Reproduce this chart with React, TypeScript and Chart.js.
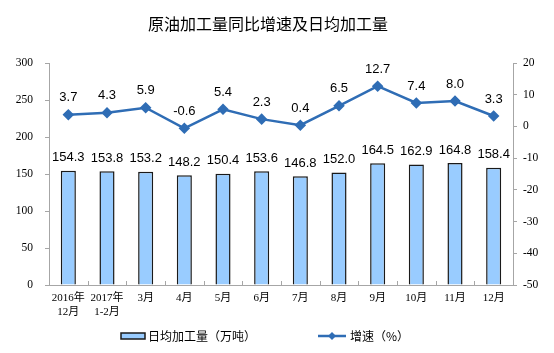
import React, { useEffect, useRef } from "react";
import { Chart, registerables } from "chart.js";

Chart.register(...registerables);

const categories: (string | string[])[] = [
  ["2016年", "12月"], ["2017年", "1-2月"], "3月", "4月", "5月", "6月",
  "7月", "8月", "9月", "10月", "11月", "12月",
];
const dailyOutput = [154.3, 153.8, 153.2, 148.2, 150.4, 153.6, 146.8, 152.0, 164.5, 162.9, 164.8, 158.4];
const growthRate = [3.7, 4.3, 5.9, -0.6, 5.4, 2.3, 0.4, 6.5, 12.7, 7.4, 8.0, 3.3];
const titleText = "原油加工量同比增速及日均加工量";
const barLegend = "日均加工量（万吨）";
const lineLegend = "增速（%）";

const LINE_COLOR = "#2F6DB5";
const BAR_COLOR = "#99CCFF";
const AXIS_COLOR = "#A6A6A6";
const TICK_FONT = "'Liberation Serif', 'Noto Sans CJK SC', serif";
const LABEL_FONT = "'Liberation Sans', Arial, sans-serif";
const CJK_FONT = "'Noto Sans CJK SC', 'Liberation Sans', sans-serif";

const decorPlugin = {
  id: "decor",
  afterDatasetsDraw(chart: any) {
    const ctx = chart.ctx;
    ctx.save();
    // inward category tick marks on x axis
    const xs = chart.scales.x;
    const area = chart.chartArea;
    ctx.strokeStyle = AXIS_COLOR;
    ctx.lineWidth = 1;
    const n = categories.length;
    for (let i = 0; i <= n; i++) {
      const px = Math.round(xs.left + (xs.width * i) / n) + 0.5;
      ctx.beginPath();
      ctx.moveTo(px, area.bottom);
      ctx.lineTo(px, area.bottom - 4);
      ctx.stroke();
    }

    // title
    ctx.fillStyle = "#000";
    ctx.font = `16px ${CJK_FONT}`;
    ctx.textAlign = "center";
    ctx.textBaseline = "middle";
    ctx.fillText(titleText, 268, 24);

    // data labels
    const barMeta = chart.getDatasetMeta(0);
    const lineMeta = chart.getDatasetMeta(1);
    ctx.font = `13px ${LABEL_FONT}`;
    ctx.fillStyle = "#000";
    barMeta.data.forEach((el: any, i: number) => {
      ctx.fillText(dailyOutput[i].toFixed(1), el.x, el.y - 13);
    });
    lineMeta.data.forEach((el: any, i: number) => {
      ctx.fillText(growthRate[i].toFixed(1), el.x, el.y - 17);
    });

    // legend
    const ly = 336;
    ctx.fillStyle = BAR_COLOR;
    ctx.strokeStyle = "#1a1a1a";
    ctx.lineWidth = 1.5;
    ctx.fillRect(121, ly - 3, 24, 6);
    ctx.strokeRect(121, ly - 3, 24, 6);
    ctx.fillStyle = "#000";
    ctx.font = `12px ${CJK_FONT}`;
    ctx.textAlign = "left";
    ctx.fillText(barLegend, 148, ly);

    ctx.strokeStyle = LINE_COLOR;
    ctx.lineWidth = 2.5;
    ctx.beginPath();
    ctx.moveTo(318, ly);
    ctx.lineTo(346, ly);
    ctx.stroke();
    ctx.fillStyle = LINE_COLOR;
    ctx.beginPath();
    ctx.moveTo(332, ly - 4);
    ctx.lineTo(336, ly);
    ctx.lineTo(332, ly + 4);
    ctx.lineTo(328, ly);
    ctx.closePath();
    ctx.fill();
    ctx.fillStyle = "#000";
    ctx.fillText(lineLegend, 350, ly);
    ctx.restore();
  },
};

export default function App() {
  const ref = useRef<HTMLCanvasElement>(null);
  useEffect(() => {
    if (!ref.current) return;
    const chart = new Chart(ref.current, {
      type: "bar",
      data: {
        labels: categories as any,
        datasets: [
          {
            type: "bar",
            label: barLegend,
            data: dailyOutput,
            yAxisID: "y",
            backgroundColor: BAR_COLOR,
            borderColor: "#1a1a1a",
            borderWidth: 1.5,
            categoryPercentage: 1,
            barPercentage: 0.39,
            order: 2,
          },
          {
            type: "line",
            label: lineLegend,
            data: growthRate,
            yAxisID: "y1",
            borderColor: LINE_COLOR,
            backgroundColor: LINE_COLOR,
            borderWidth: 2.5,
            pointStyle: "rectRot",
            pointRadius: 4,
            pointBackgroundColor: LINE_COLOR,
            pointBorderColor: LINE_COLOR,
            tension: 0,
            order: 1,
          },
        ],
      },
      options: {
        animation: false,
        responsive: false,
        devicePixelRatio: 1,
        layout: { padding: { top: 63, bottom: 28, left: 0, right: 0 } },
        plugins: {
          legend: { display: false },
          title: { display: false },
          tooltip: { enabled: false },
        },
        scales: {
          x: {
            offset: true,
            grid: {
              offset: true,
              display: true,
              drawOnChartArea: false,
              drawTicks: false,
              color: AXIS_COLOR,
            },
            border: { display: true, color: AXIS_COLOR },
            ticks: {
              color: "#000",
              font: { family: TICK_FONT, size: 11 },
              maxRotation: 0,
              autoSkip: false,
              padding: 7,
            },
            afterFit: (s: any) => { s.height = 40; },
          },
          y: {
            position: "left",
            min: 0,
            max: 300,
            grid: { drawOnChartArea: false, drawTicks: true, tickLength: 4, color: AXIS_COLOR },
            border: { display: true, color: AXIS_COLOR },
            ticks: {
              stepSize: 50,
              color: "#000",
              font: { family: TICK_FONT, size: 11.5 },
              padding: 12,
            },
            afterFit: (s: any) => { s.width = 49; },
          },
          y1: {
            position: "right",
            min: -50,
            max: 20,
            grid: { drawOnChartArea: false, drawTicks: true, tickLength: 4, color: AXIS_COLOR },
            border: { display: true, color: AXIS_COLOR },
            ticks: {
              stepSize: 10,
              color: "#000",
              font: { family: TICK_FONT, size: 11.5 },
              padding: 6,
            },
            afterFit: (s: any) => { s.width = 41; },
          },
        },
      },
      plugins: [decorPlugin],
    } as any);
    return () => chart.destroy();
  }, []);
  return (
    <div style={{ position: "fixed", left: 0, top: 0, width: 554, height: 353, background: "#fff" }}>
      <canvas ref={ref} width={554} height={353} style={{ width: 554, height: 353 }} />
    </div>
  );
}
